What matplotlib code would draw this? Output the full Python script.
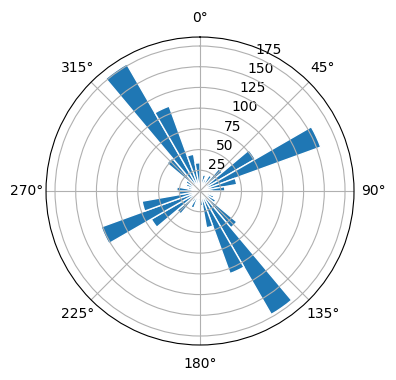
import numpy as np
import matplotlib
matplotlib.use('Agg')
import matplotlib.pyplot as plt

# direction bins (degrees, left edge of each 10 degree sector)
bin_edges = list(range(0, 360, 10))
bin_width = 10

# counts per sector
counts = [12, 20, 15, 22, 35, 77, 155, 45, 30, 15,
          12, 18, 22, 58, 172, 106, 45, 18, 12, 10,
          22, 15, 36, 68, 127, 71, 25, 28, 15, 18,
          20, 52, 177, 109, 45, 34]

fig = plt.figure(figsize=(3.96, 3.8), dpi=100)
ax = fig.add_axes([0.1162, 0.0921, 0.7778, 0.8105], projection='polar')
ax.set_theta_zero_location('N')
ax.set_theta_direction(-1)

theta = np.deg2rad(np.array(bin_edges) + bin_width / 2)
ax.bar(theta, counts, width=np.deg2rad(bin_width), bottom=0.0,
       color='#1f77b4', edgecolor='white', linewidth=1)

fig.savefig('out.png', dpi=100)
